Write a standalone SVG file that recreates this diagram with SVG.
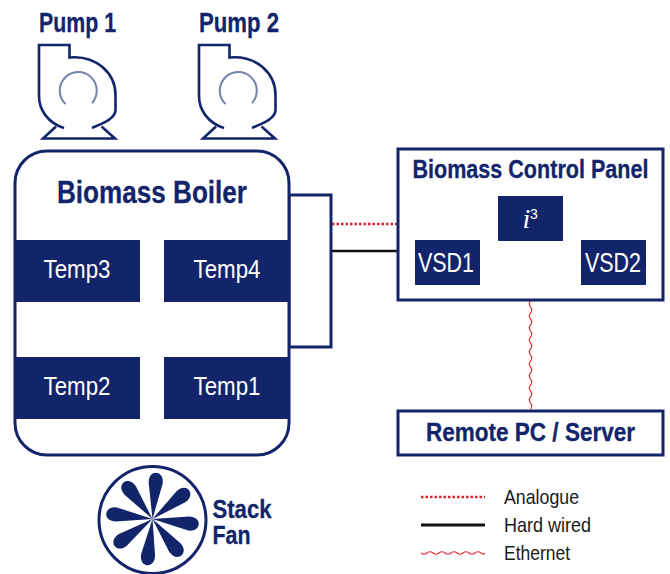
<svg xmlns="http://www.w3.org/2000/svg" width="670" height="574" viewBox="0 0 670 574">
<style>
text{font-family:"Liberation Sans",Arial,sans-serif}
.h{font-weight:700;fill:#12246a;stroke:#12246a;stroke-width:.3}
.w{fill:#fff;font-size:26px;text-anchor:middle}
.l{fill:#1a1a1a;font-size:21px}
.box{fill:#fff;stroke:#12246a;stroke-width:3}
.fill{fill:#12246a}
.p{fill:none;stroke:#12246a;stroke-width:2.6;stroke-linejoin:miter}
.pi{fill:none;stroke:#7484ad;stroke-width:2}
.wave{fill:none;stroke:#e8323c;stroke-width:1.2}
</style>
<defs>
<g id="pump">
<path class="p" d="M64 128C48 123 39 110 39 96V45H69.500V57.500C96 55 115.500 73 115.500 95V110C115.500 119 101 124 92 128"/>
<path class="p" d="M56 126.500L43 138.500H115L101.500 126.500"/>
<path class="pi" d="M65.500 104A18.500 18.500 0 1 1 92 103"/>
</g>
<path id="blade" d="M0 0L-7 -36C-8.500 -50 8 -50 7 -36L0 0Z"/>
</defs>
<g id="connectors">
<path d="M332 224H398" stroke="#e0202c" stroke-width="2.600" stroke-dasharray="2.500 2" fill="none"/>
<path d="M332 251H398" stroke="#111" stroke-width="2.600" fill="none"/>
<path class="wave" d="M530.500 301q-2.500 3 0 6t0 6t0 6t0 6t0 6t0 6t0 6t0 6t0 6t0 6t0 6t0 6t0 6t0 6t0 6t0 6t0 6t0 6"/>
</g>
<g id="pump1"><text class="h" x="39" y="32" font-size="27" textLength="77" lengthAdjust="spacingAndGlyphs">Pump 1</text><use href="#pump"/></g>
<g id="pump2"><text class="h" x="199" y="32" font-size="27" textLength="80" lengthAdjust="spacingAndGlyphs">Pump 2</text><use href="#pump" x="160"/></g>
<g id="junction"><rect class="box" x="289" y="195" width="42" height="152"/></g>
<g id="boiler">
<rect class="box" x="15" y="151" width="274" height="304" rx="32"/>
<text class="h" x="57" y="203" font-size="31" textLength="190" lengthAdjust="spacingAndGlyphs">Biomass Boiler</text>
</g>
<g id="temp3"><rect class="fill" x="15" y="240" width="125" height="62"/><text class="w" x="77" y="278" textLength="67" lengthAdjust="spacingAndGlyphs">Temp3</text></g>
<g id="temp4"><rect class="fill" x="164" y="240" width="125" height="62"/><text class="w" x="227" y="278" textLength="67" lengthAdjust="spacingAndGlyphs">Temp4</text></g>
<g id="temp2"><rect class="fill" x="15" y="357" width="125" height="62"/><text class="w" x="77" y="395" textLength="67" lengthAdjust="spacingAndGlyphs">Temp2</text></g>
<g id="temp1"><rect class="fill" x="164" y="357" width="125" height="62"/><text class="w" x="227" y="395" textLength="67" lengthAdjust="spacingAndGlyphs">Temp1</text></g>
<g id="panel">
<rect class="box" x="398" y="149" width="265" height="151"/>
<text class="h" transform="translate(412.500 178) scale(.829 1)" font-size="26">Biomass Control Panel</text>
</g>
<g id="i3"><rect class="fill" x="498" y="196" width="65" height="45"/><text x="522.500" y="228" fill="#fff" font-size="28" style="font-family:'Liberation Serif',serif" font-style="italic">i</text><text x="530" y="219" fill="#fff" font-size="14">3</text></g>
<g id="vsd1"><rect class="fill" x="415" y="240" width="65" height="45"/><text x="446" y="272" fill="#fff" font-size="28" text-anchor="middle" textLength="56" lengthAdjust="spacingAndGlyphs">VSD1</text></g>
<g id="vsd2"><rect class="fill" x="581" y="240" width="65" height="45"/><text x="613" y="272" fill="#fff" font-size="28" text-anchor="middle" textLength="56" lengthAdjust="spacingAndGlyphs">VSD2</text></g>
<g id="remote">
<rect class="box" x="398" y="411" width="265" height="44"/>
<text class="h" x="426" y="441" font-size="26" textLength="209" lengthAdjust="spacingAndGlyphs">Remote PC / Server</text>
</g>
<g id="fan">
<circle cx="152.500" cy="520" r="53.500" fill="#fff" stroke="#12246a" stroke-width="3"/>
<g class="fill" transform="translate(152.500 519)">
<use href="#blade" transform="rotate(5)"/><use href="#blade" transform="rotate(52)"/><use href="#blade" transform="rotate(97)"/><use href="#blade" transform="rotate(142)"/><use href="#blade" transform="rotate(187)"/><use href="#blade" transform="rotate(235)"/><use href="#blade" transform="rotate(277)"/><use href="#blade" transform="rotate(322)"/>
</g>
<text class="h" transform="translate(212.500 517.500) scale(.885 1)" font-size="25">Stack</text>
<text class="h" transform="translate(212.500 543.500) scale(.855 1)" font-size="25">Fan</text>
</g>
<g id="legend">
<path d="M421 497H485" stroke="#e0202c" stroke-width="2.400" stroke-dasharray="2.500 2" fill="none"/>
<path d="M421 525H485" stroke="#111" stroke-width="2.800" fill="none"/>
<path class="wave" d="M421 553q3 2.500 6 0t6 0t6 0t6 0t6 0t6 0t6 0t6 0t6 0t6 0t4 0"/>
<text class="l" x="504" y="503.500" textLength="75" lengthAdjust="spacingAndGlyphs">Analogue</text>
<text class="l" x="504" y="531.500" textLength="87" lengthAdjust="spacingAndGlyphs">Hard wired</text>
<text class="l" x="504" y="559.500" textLength="66" lengthAdjust="spacingAndGlyphs">Ethernet</text>
</g>
</svg>
